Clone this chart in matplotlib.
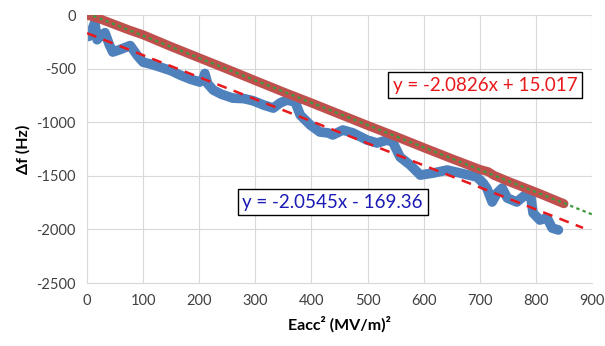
import numpy as np
import matplotlib
matplotlib.use("Agg")
import matplotlib.pyplot as plt

plt.rcParams['axes.unicode_minus'] = False

blue_x = [3, 8, 14, 18, 25, 32, 40, 46, 60, 77, 90, 100, 115, 130, 150, 166, 185, 201, 207, 210,
          215, 225, 240, 260, 280, 296, 315, 332, 344, 356, 371, 380, 398, 415, 430, 438, 456, 474, 499, 517,
          535, 545, 558, 576, 594, 617, 642, 665, 695, 706, 713, 722, 731, 740, 749, 766, 781, 790, 795, 807,
          820, 829, 840]
blue_y = [-200, -150, -70, -230, -190, -165, -280, -345, -320, -285, -380, -440, -460, -485, -520, -560, -600, -625, -600, -545,
          -640, -700, -740, -775, -780, -800, -840, -868, -821, -793, -811, -933, -1026, -1091, -1100, -1119, -1073, -1100, -1166, -1194,
          -1166, -1185, -1325, -1399, -1493, -1474, -1446, -1474, -1511, -1567, -1620, -1744, -1660, -1614, -1707, -1744, -1679, -1660, -1847, -1912,
          -1894, -1987, -2005]

red_x = [0, 25, 50, 75, 100, 150, 200, 250, 300, 350, 400, 450, 500, 550, 600, 650, 700, 715, 725, 750, 800, 850]
red_y = [0, -40, -90, -140, -185, -295, -400, -505, -612, -718, -820, -925, -1030, -1132, -1237, -1340, -1440, -1462, -1495, -1550, -1652, -1760]

# trendline coefficients
red_fit = (-2.0826, 15.017)
blue_fit = (-2.0545, -169.36)

fig = plt.figure(figsize=(6.05, 3.46), dpi=100)
ax = fig.add_axes([0.1438, 0.182, 0.8347, 0.7746])

ax.plot(blue_x, blue_y, color='#4f81bd', lw=7, solid_capstyle='round', solid_joinstyle='round', zorder=2)
ax.plot(red_x, red_y, color='#c0504d', lw=6.5, solid_capstyle='round', solid_joinstyle='round', zorder=3)

xg = np.array([0, 900])
ax.plot(xg, red_fit[0] * xg + red_fit[1], color='#3f9a3f', lw=1.6, ls=(0, (1.5, 1.5)), zorder=4)
xb = np.array([0, 884])
ax.plot(xb, blue_fit[0] * xb + blue_fit[1], color='#e8191c', lw=1.8, ls=(0, (4, 3)), zorder=4)

ax.set_xlim(0, 900)
ax.set_ylim(-2500, 0)
ax.set_xticks(range(0, 901, 100))
ax.set_yticks(range(-2500, 1, 500))
ax.grid(True, color='#d9d9d9', lw=0.8)
ax.set_axisbelow(True)
for s in ['top', 'right']:
    ax.spines[s].set_visible(False)
for s in ['left', 'bottom']:
    ax.spines[s].set_color('#d9d9d9')
ax.tick_params(length=0, labelsize=10.5, colors='#404040', pad=8)
for lab in ax.get_xticklabels() + ax.get_yticklabels():
    lab.set_family('Lato')

ax.set_xlabel('Eacc² (MV/m)²', fontsize=11.5, fontweight='bold', family='Lato', labelpad=6)
ax.set_ylabel('Δf (Hz)', fontsize=11.5, fontweight='bold', family='Lato', labelpad=4)

ax.text(0.802, 0.754, 'y = -2.0826x + 15.017', transform=fig.transFigure, ha='center', va='center',
        fontsize=13.5, color='#e8191c', family='Lato',
        bbox=dict(boxstyle='square,pad=0.25', fc='white', ec='black', lw=1))
ax.text(0.550, 0.416, 'y = -2.0545x - 169.36', transform=fig.transFigure, ha='center', va='center',
        fontsize=13.5, color='#1a1ab4', family='Lato',
        bbox=dict(boxstyle='square,pad=0.25', fc='white', ec='black', lw=1))

fig.savefig('out.png', dpi=100)
